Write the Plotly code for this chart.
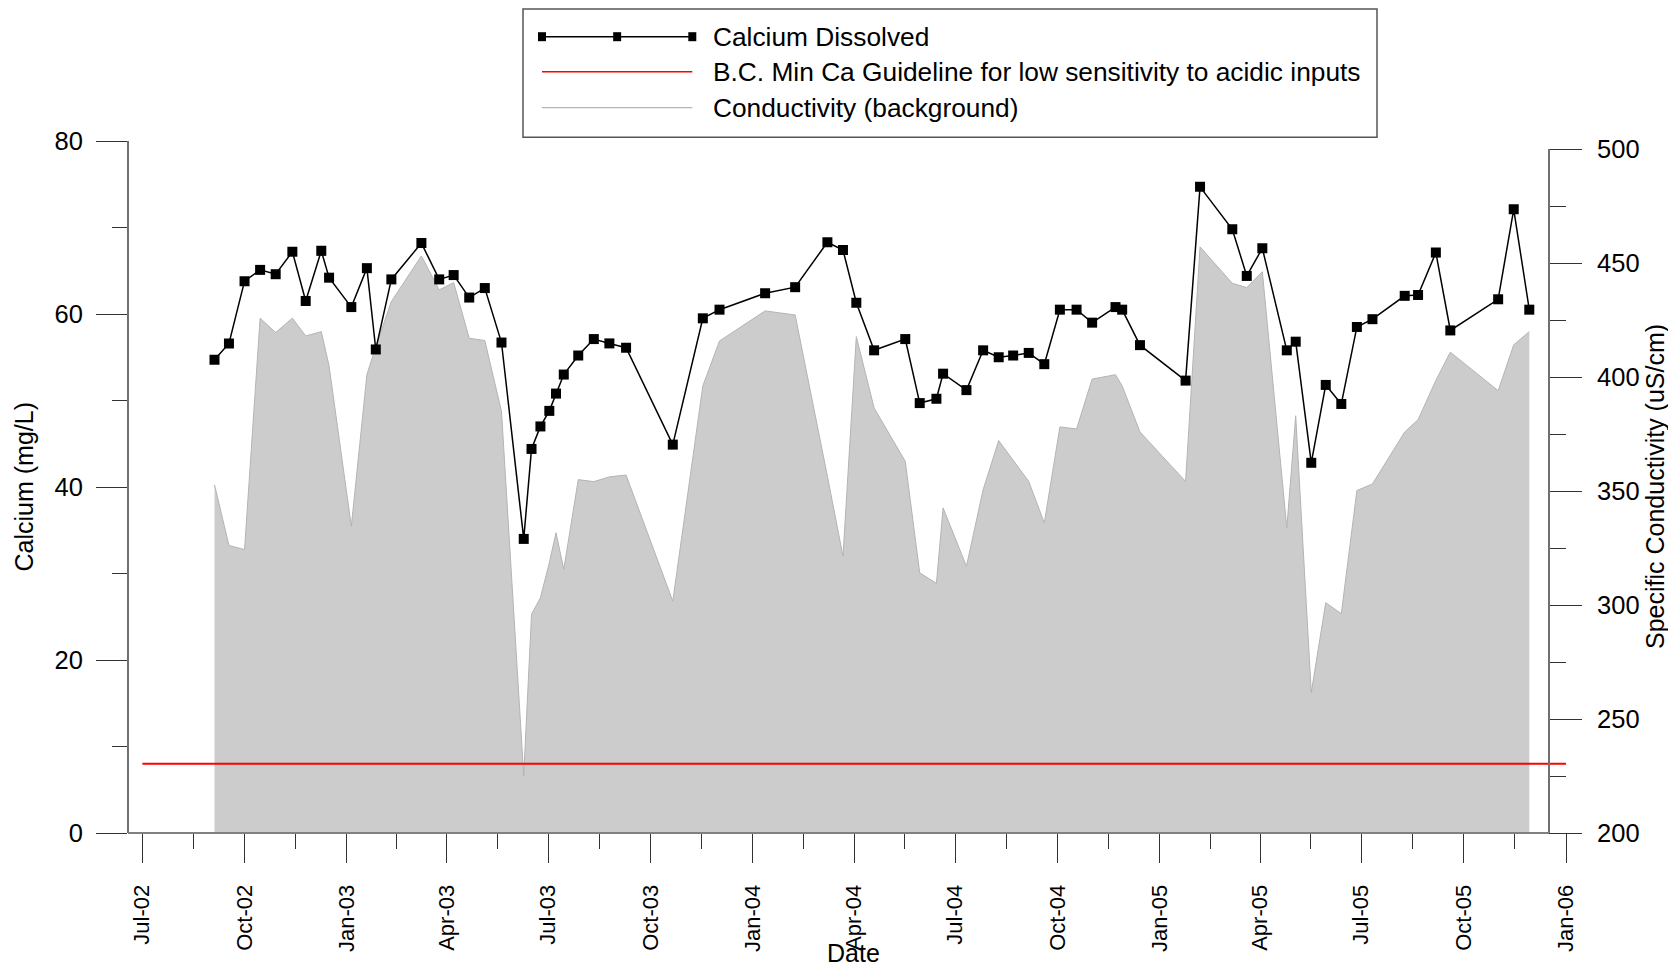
import plotly.graph_objects as go
import pandas as pd

# ---------------- data ----------------
sample_dates = [
    "2002-09-04", "2002-09-17", "2002-10-01", "2002-10-15", "2002-10-29", "2002-11-13",
    "2002-11-25", "2002-12-09", "2002-12-16", "2003-01-05", "2003-01-19", "2003-01-27",
    "2003-02-10", "2003-03-09", "2003-03-25", "2003-04-07", "2003-04-21", "2003-05-05",
    "2003-05-20", "2003-06-09", "2003-06-16", "2003-06-24", "2003-07-02", "2003-07-08",
    "2003-07-15", "2003-07-28", "2003-08-11", "2003-08-25", "2003-09-09", "2003-10-21",
    "2003-11-17", "2003-12-02", "2004-01-12", "2004-02-08", "2004-03-08", "2004-03-22",
    "2004-04-03", "2004-04-19", "2004-05-17", "2004-05-30", "2004-06-14", "2004-06-20",
    "2004-07-11", "2004-07-26", "2004-08-09", "2004-08-22", "2004-09-05", "2004-09-19",
    "2004-10-03", "2004-10-18", "2004-11-01", "2004-11-22", "2004-11-28", "2004-12-14",
    "2005-01-24", "2005-02-06", "2005-03-07", "2005-03-20", "2005-04-03", "2005-04-25",
    "2005-05-03", "2005-05-17", "2005-05-30", "2005-06-13", "2005-06-27", "2005-07-11",
    "2005-08-09", "2005-08-21", "2005-09-06", "2005-09-19", "2005-11-01", "2005-11-15",
    "2005-11-29",
]

calcium_mg_l = [
    54.7, 56.6, 63.8, 65.1, 64.6, 67.2, 61.5, 67.3, 64.2, 60.8, 65.3, 55.9,
    64.0, 68.2, 64.0, 64.5, 61.9, 63.0, 56.7, 34.0, 44.4, 47.0, 48.8, 50.8,
    53.0, 55.2, 57.1, 56.6, 56.1, 44.9, 59.5, 60.5, 62.4, 63.1, 68.3, 67.4,
    61.3, 55.8, 57.1, 49.7, 50.2, 53.1, 51.2, 55.8, 55.0, 55.2, 55.5, 54.2,
    60.5, 60.5, 59.0, 60.8, 60.5, 56.4, 52.3, 74.7, 69.8, 64.4, 67.6, 55.8,
    56.8, 42.8, 51.8, 49.6, 58.5, 59.4, 62.1, 62.2, 67.1, 58.1, 61.7, 72.1,
    60.5,
]

conductivity_us_cm = [
    352.8, 326.1, 324.3, 425.8, 419.5, 425.8, 418.0, 419.9, 404.9, 334.5, 401.0, 413.3,
    433.1, 453.1, 438.2, 441.4, 417.0, 416.0, 384.9, 225.1, 295.9, 303.2, 318.5, 331.7,
    315.6, 355.0, 354.1, 356.2, 357.0, 301.7, 396.1, 415.8, 429.0, 427.2, 356.5, 321.4,
    417.7, 386.4, 363.0, 314.1, 309.5, 342.6, 317.0, 350.6, 372.1, 363.7, 354.2, 336.0,
    378.1, 377.2, 399.1, 401.0, 396.1, 375.9, 354.2, 457.1, 441.1, 439.2, 446.2, 333.8,
    383.0, 261.6, 301.0, 296.2, 350.2, 353.1, 375.9, 381.3, 398.5, 410.9, 394.0, 414.1,
    419.9,
]

guideline_dates = ["2002-07-01", "2006-01-01"]
guideline_ca = [8, 8]

tick_dates = [
    "2002-07-01", "2002-10-01", "2003-01-01", "2003-04-01", "2003-07-01", "2003-10-01",
    "2004-01-01", "2004-04-01", "2004-07-01", "2004-10-01", "2005-01-01", "2005-04-01",
    "2005-07-01", "2005-10-01", "2006-01-01",
]
tick_labels = [
    "Jul-02", "Oct-02", "Jan-03", "Apr-03", "Jul-03", "Oct-03", "Jan-04", "Apr-04",
    "Jul-04", "Oct-04", "Jan-05", "Apr-05", "Jul-05", "Oct-05", "Jan-06",
]

legend_labels = [
    "Calcium Dissolved",
    "B.C. Min Ca Guideline for low sensitivity to acidic inputs",
    "Conductivity (background)",
]

# ---------------- layout helpers (page pixel geometry) ----------------
W, H = 1676, 967
OFF = 8                                        # default body margin of the page
FW, FH = W - OFF, H - OFF                      # figure size
PL, PR, PT, PB = 128, 1566, 141, 833           # plot (paper) area in page pixels
X_START_PX = 142.2                             # Jul-02 tick position
RIGHT_AXIS_PX = 1549
COND_PX_PER_UNIT = 2.28


def px(x):
    return (x - PL) / (PR - PL)


def py(y):
    return (PB - y) / (PB - PT)


cond_top = 200 + (PB - PT) / COND_PX_PER_UNIT

td = pd.to_datetime(tick_dates)
minor_ticks = [(td[i] + (td[i + 1] - td[i]) / 2).strftime("%Y-%m-%d %H:%M") for i in range(len(td) - 1)]

FONT = "Liberation Sans, Arial, sans-serif"
BLACK = "#000000"
TICK_C = "#333333"

fig = go.Figure()

# conductivity background (base axis y, drawn first)
fig.add_trace(go.Scatter(
    x=sample_dates, y=conductivity_us_cm, yaxis="y", mode="lines",
    line=dict(color="#b4b4b4", width=1), fill="tozeroy", fillcolor="#cccccc",
    showlegend=False, hoverinfo="skip",
))
# guideline
fig.add_trace(go.Scatter(
    x=guideline_dates, y=guideline_ca, yaxis="y2", mode="lines",
    line=dict(color="#ff0000", width=2), showlegend=False,
))
# calcium
fig.add_trace(go.Scatter(
    x=sample_dates, y=calcium_mg_l, yaxis="y2", mode="lines+markers",
    line=dict(color=BLACK, width=1.5),
    marker=dict(symbol="square", size=10, color=BLACK),
    showlegend=False,
))

shapes = []
annotations = []

# right axis line (200-500 only) and bottom frame line
shapes.append(dict(type="line", xref="paper", yref="y", x0=px(RIGHT_AXIS_PX), x1=px(RIGHT_AXIS_PX),
                   y0=200, y1=500, line=dict(color="#707070", width=2)))
shapes.append(dict(type="line", xref="paper", yref="paper", x0=0, x1=px(RIGHT_AXIS_PX),
                   y0=0, y1=0, line=dict(color="#808080", width=2)))

# custom legend
LX0, LX1, LY0, LY1 = 523, 1377, 9.0, 137.3
shapes.append(dict(type="rect", xref="paper", yref="paper", x0=px(LX0), x1=px(LX1),
                   y0=py(LY1), y1=py(LY0), line=dict(color="#555555", width=1.5),
                   fillcolor="rgba(255,255,255,0)"))
rows_y = [36.7, 71.7, 107.7]
sx0, sx1 = 542, 692.3
line_styles = [dict(color=BLACK, width=1.5), dict(color="#ff0000", width=1.5), dict(color="#b4b4b4", width=1.2)]
for ry, ls, lab in zip(rows_y, line_styles, legend_labels):
    shapes.append(dict(type="line", xref="paper", yref="paper", x0=px(sx0), x1=px(sx1),
                       y0=py(ry), y1=py(ry), line=ls))
    annotations.append(dict(text=lab, xref="paper", yref="paper", x=px(711), y=py(ry),
                            xanchor="left", yanchor="middle", showarrow=False,
                            font=dict(family=FONT, size=26.3, color=BLACK)))
for mx in [sx0, (sx0 + sx1) / 2, sx1]:
    shapes.append(dict(type="rect", xref="paper", yref="paper", x0=px(mx - 4), x1=px(mx + 4),
                       y0=py(rows_y[0] + 4.5), y1=py(rows_y[0] - 4.5), fillcolor=BLACK,
                       line=dict(color=BLACK, width=0)))

# axis titles
annotations.append(dict(text="Calcium (mg/L)", xref="paper", yref="paper", x=px(23.5), y=0.5,
                        textangle=-90, showarrow=False, xanchor="center", yanchor="middle",
                        font=dict(family=FONT, size=25, color=BLACK)))
annotations.append(dict(text="Specific Conductivity (uS/cm)", xref="paper", yref="paper", x=px(1655), y=0.5,
                        textangle=-90, showarrow=False, xanchor="center", yanchor="middle",
                        font=dict(family=FONT, size=25, color=BLACK)))
annotations.append(dict(text="Date", xref="paper", yref="paper", x=px(853), y=py(953),
                        showarrow=False, xanchor="center", yanchor="middle",
                        font=dict(family=FONT, size=25, color=BLACK)))

fig.update_layout(
    width=FW, height=FH,
    margin=dict(l=PL - OFF, r=FW - (PR - OFF), t=PT - OFF, b=FH - (PB - OFF), autoexpand=False),
    paper_bgcolor="white", plot_bgcolor="white",
    font=dict(family=FONT, size=25, color=BLACK),
    showlegend=False,
    xaxis=dict(
        domain=[px(X_START_PX), 1], range=guideline_dates, type="date",
        showgrid=False, zeroline=False, showline=True, linecolor=TICK_C, linewidth=1,
        tickmode="array", tickvals=tick_dates, ticktext=tick_labels, tickangle=-90,
        ticks="outside", ticklen=29, tickwidth=1, tickcolor=TICK_C,
        tickfont=dict(family=FONT, size=22, color=BLACK), ticklabelstandoff=13,
        minor=dict(tickmode="array", tickvals=minor_ticks, ticks="outside", ticklen=15,
                   tickwidth=1, tickcolor=TICK_C, showgrid=False),
        anchor="y", automargin=False,
    ),
    yaxis=dict(
        range=[200, cond_top], side="right", anchor="free", position=px(RIGHT_AXIS_PX),
        showgrid=False, zeroline=False, showline=False,
        tickmode="array", tickvals=[200, 250, 300, 350, 400, 450, 500],
        ticks="outside", ticklen=32, tickwidth=1.2, tickcolor=TICK_C,
        minor=dict(tickmode="array", tickvals=[225, 275, 325, 375, 425, 475], ticks="outside",
                   ticklen=16, tickwidth=1.2, tickcolor=TICK_C, showgrid=False),
        tickfont=dict(family=FONT, size=25.5, color=BLACK), ticklabelstandoff=10,
        automargin=False,
    ),
    yaxis2=dict(
        range=[0, 80], side="left", overlaying="y", anchor="free", position=0,
        showgrid=False, zeroline=False, showline=True, linecolor="#707070", linewidth=2,
        tickmode="array", tickvals=[0, 20, 40, 60, 80],
        ticks="outside", ticklen=31, tickwidth=1.2, tickcolor=TICK_C,
        minor=dict(tickmode="array", tickvals=[10, 30, 50, 70], ticks="outside",
                   ticklen=15, tickwidth=1.2, tickcolor=TICK_C, showgrid=False),
        tickfont=dict(family=FONT, size=25.5, color=BLACK), ticklabelstandoff=8,
        automargin=False,
    ),
    shapes=shapes,
    annotations=annotations,
)

fig.write_html("out.html")
